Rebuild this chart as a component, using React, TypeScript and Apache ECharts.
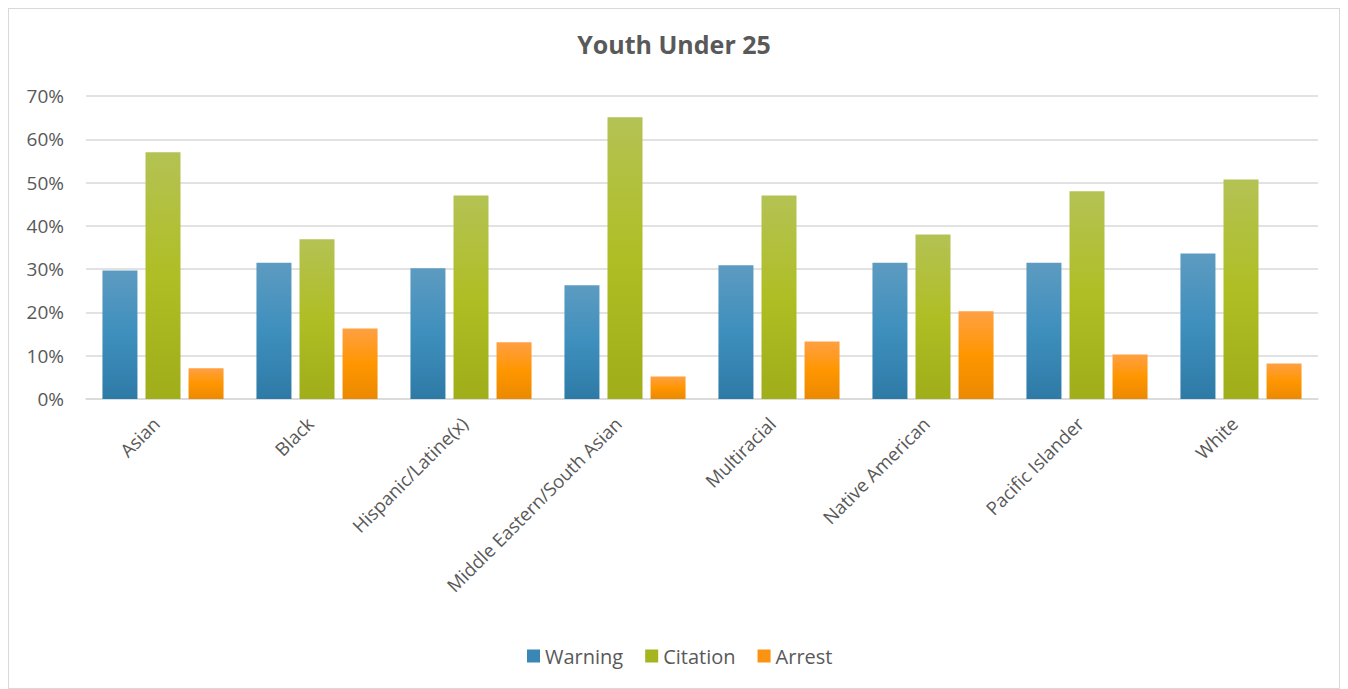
import React, { useEffect, useRef } from "react";
import * as echarts from "echarts";

const categories = [
  "Asian",
  "Black",
  "Hispanic/Latine(x)",
  "Middle Eastern/South Asian",
  "Multiracial",
  "Native American",
  "Pacific Islander",
  "White",
];
const warning = [29.7, 31.5, 30.2, 26.3, 30.9, 31.5, 31.5, 33.6];
const citation = [57.0, 36.9, 47.0, 65.1, 47.0, 38.0, 48.0, 50.7];
const arrest = [7.1, 16.3, 13.1, 5.2, 13.3, 20.3, 10.3, 8.2];
const yTicks = [0, 10, 20, 30, 40, 50, 60, 70];

const FONT = "'Open Sans', sans-serif";
const TEXT = "#595959";

const grad = (top: string, mid: string, bottom: string) =>
  new echarts.graphic.LinearGradient(0, 0, 0, 1, [
    { offset: 0, color: top },
    { offset: 0.5, color: mid },
    { offset: 1, color: bottom },
  ]);

export default function App() {
  const ref = useRef<HTMLDivElement>(null);
  useEffect(() => {
    document.body.style.overflow = "hidden";
    if (!ref.current) return;
    const chart = echarts.init(ref.current, undefined, { renderer: "svg" });
    const seriesDefs = [
      { name: "Warning", data: warning, c: grad("#5d9bc1", "#3e8fbd", "#2e7aa6"), legend: "#3a86b4" },
      { name: "Citation", data: citation, c: grad("#b4c254", "#afbe24", "#9fae19"), legend: "#a5b41f" },
      { name: "Arrest", data: arrest, c: grad("#ffa043", "#ff9600", "#eb8900"), legend: "#fb9210" },
    ];
    chart.setOption({
      animation: false,
      backgroundColor: "#ffffff",
      title: {
        text: "Youth Under 25",
        left: "center",
        top: 17,
        textStyle: { fontFamily: FONT, fontSize: 25, fontWeight: "bold", color: TEXT },
      },
      legend: {
        bottom: 17,
        left: 513,
        itemWidth: 13,
        itemHeight: 13,
        itemGap: 22,
        icon: "rect",
        textStyle: { fontFamily: FONT, fontSize: 20, color: TEXT },
        data: seriesDefs.map((s) => ({ name: s.name, itemStyle: { color: s.legend } })),
      },
      grid: { left: 77, right: 21, top: 87, bottom: 289, containLabel: false },
      xAxis: {
        type: "category",
        data: categories,
        axisLine: { lineStyle: { color: "#d9d9d9", width: 1.5 } },
        axisTick: { show: false },
        axisLabel: {
          rotate: 45,
          interval: 0,
          margin: 14,
          padding: [0, 10, 0, 0],
          fontFamily: FONT,
          fontSize: 18.5,
          color: TEXT,
        },
      },
      yAxis: {
        type: "value",
        min: yTicks[0],
        max: yTicks[yTicks.length - 1],
        interval: 10,
        axisLine: { show: false },
        axisTick: { show: false },
        splitLine: { lineStyle: { color: "#d9d9d9", width: 1.5 } },
        axisLabel: {
          formatter: (v: number) => `${v}%`,
          margin: 22,
          fontFamily: FONT,
          fontSize: 19,
          color: TEXT,
        },
      },
      series: seriesDefs.map((s) => ({
        name: s.name,
        type: "bar",
        data: s.data,
        barWidth: 35,
        barGap: "23%",
        itemStyle: { color: s.c },
      })),
    });
    return () => chart.dispose();
  }, []);
  return (
    <div
      ref={ref}
      style={{
        width: 1332,
        height: 681,
        border: "1px solid #d9d9d9",
        boxSizing: "border-box",
      }}
    />
  );
}
